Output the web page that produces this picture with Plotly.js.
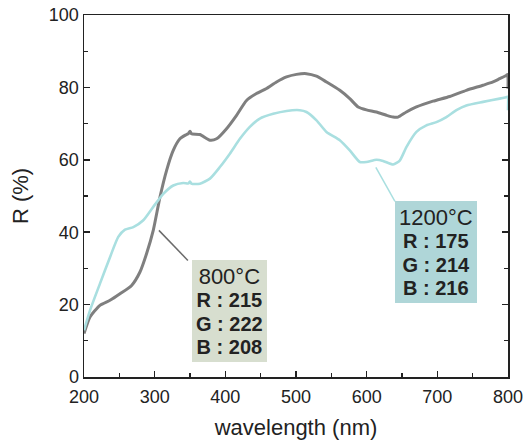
<!DOCTYPE html>
<html>
<head>
<meta charset="utf-8">
<script src="https://cdn.plot.ly/plotly-3.0.1.min.js"></script>
<style>html,body{margin:0;padding:0;background:#fff;}#chart{width:525px;height:444px;}</style>
</head>
<body>
<div id="chart"></div>
<script>
// 800°C sample (grey)
const wl800 = [200, 208.5, 222.6, 236.8, 250.9, 267.4, 279.2, 288.6, 298, 307.5, 316.9, 326.3, 335.7, 345.2, 348, 350, 352, 364, 378.2, 387.6, 401.7, 415.9, 430, 444.1, 458.3, 472.4, 486.6, 500.7, 514.8, 529, 543.1, 562, 576.1, 587.9, 599.7, 613.8, 628, 637.4, 644.4, 656.2, 670.4, 693.9, 717.5, 741.1, 764.7, 778.8, 788.2, 797.6, 799.5, 800];
const r800 = [12.0, 16.6, 19.8, 21.2, 23.0, 25.3, 29.0, 34.1, 40.5, 49.7, 57.1, 62.6, 65.8, 67.0, 67.3, 67.9, 67.2, 67.0, 65.4, 65.8, 68.6, 72.3, 76.4, 78.3, 79.7, 81.5, 82.9, 83.6, 83.8, 83.1, 81.5, 79.2, 76.9, 74.6, 73.8, 73.2, 72.3, 71.8, 71.8, 73.2, 74.6, 76.2, 77.5, 79.2, 80.6, 81.5, 82.4, 83.3, 83.6, 79.6];
// 1200°C sample (cyan)
const wl1200 = [200, 208.5, 222.6, 236.8, 248.5, 258, 269.8, 283.9, 298, 312.2, 326.3, 340.4, 348, 350, 352, 364, 378.2, 392.3, 406.4, 420.6, 434.7, 448.8, 467.7, 486.6, 505.4, 514.8, 529, 543.1, 562, 576.1, 590.3, 599.7, 613.8, 623.2, 637.4, 646.8, 656.2, 670.4, 684.5, 698.7, 712.8, 727, 741.1, 764.7, 788.2, 797.6, 799.5, 800];
const r1200 = [12.9, 18.4, 25.8, 33.1, 38.7, 40.7, 41.4, 43.3, 47.0, 50.6, 52.9, 53.6, 53.5, 54.0, 53.4, 53.4, 54.8, 58.0, 61.7, 65.8, 69.1, 71.4, 72.7, 73.5, 73.7, 73.2, 70.9, 67.7, 65.4, 62.6, 59.4, 59.4, 60.0, 59.7, 58.7, 59.8, 63.5, 67.7, 69.5, 70.4, 71.8, 73.7, 75.0, 76.0, 76.9, 77.3, 77.4, 73.7];

const labels = ["800°C", "1200°C"];
const rgb800 = ["R : 215", "G : 222", "B : 208"];
const rgb1200 = ["R : 175", "G : 214", "B : 216"];

const FONT = "Liberation Sans, Arial, Helvetica, sans-serif";

const traces = [
  {x: wl800, y: r800, mode: "lines", line: {color: "#7f7f7f", width: 3, shape: "spline", smoothing: 0.6}, hoverinfo: "skip"},
  {x: wl1200, y: r1200, mode: "lines", line: {color: "#a9dfe0", width: 2.6, shape: "spline", smoothing: 0.6}, hoverinfo: "skip"}
];

function boxText(title, rows) {
  return '<span style="font-size:22px">' + title + '</span><br>' +
    rows.map(r => '<span style="font-size:20px;font-weight:bold">' + r + '</span>').join('<br>');
}

const layout = {
  width: 525, height: 444,
  margin: {l: 84, r: 17, t: 15, b: 67},
  paper_bgcolor: "#ffffff", plot_bgcolor: "#ffffff",
  showlegend: false,
  font: {family: FONT, color: "#222222", size: 18},
  xaxis: {
    range: [200, 800], dtick: 100, tick0: 200,
    ticks: "inside", ticklen: 6, tickwidth: 1.5, tickcolor: "#222",
    minor: {dtick: 50, ticks: "inside", ticklen: 4, tickwidth: 1.2, tickcolor: "#222"},
    showline: true, linecolor: "#222", linewidth: 1.5, mirror: true,
    showgrid: false, zeroline: false, ticklabelstandoff: 3,
    tickfont: {size: 18, family: FONT, color: "#222"},
    title: {text: "wavelength (nm)", font: {size: 22, family: FONT, color: "#222"}, standoff: 13}
  },
  yaxis: {
    range: [0, 100], dtick: 20, tick0: 0,
    ticks: "inside", ticklen: 6, tickwidth: 1.5, tickcolor: "#222",
    minor: {dtick: 10, ticks: "inside", ticklen: 4, tickwidth: 1.2, tickcolor: "#222"},
    showline: true, linecolor: "#222", linewidth: 1.5, mirror: "ticks",
    showgrid: false, zeroline: false,
    tickfont: {size: 18, family: FONT, color: "#222"},
    title: {text: "R (%)", font: {size: 22, family: FONT, color: "#222"}, standoff: 14}
  },
  shapes: [
    {type: "line", xref: "x", yref: "y", x0: 306, y0: 40.5, x1: 347, y1: 32.2, line: {color: "#6b6b6b", width: 1.5}},
    {type: "line", xref: "x", yref: "y", x0: 613, y0: 57.9, x1: 640, y1: 48.5, line: {color: "#a9dfe0", width: 1.5}}
  ],
  annotations: [
    {x: 406, y: 18.3, xref: "x", yref: "y", showarrow: false, text: boxText(labels[0], rgb800),
     bgcolor: "#d7decf", borderpad: 4, borderwidth: 0, xanchor: "center", yanchor: "middle", align: "center",
     font: {size: 18, family: FONT, color: "#222"}},
    {x: 697.5, y: 34.6, xref: "x", yref: "y", showarrow: false, text: boxText(labels[1], rgb1200),
     bgcolor: "#afd6d8", borderpad: 4, borderwidth: 0, xanchor: "center", yanchor: "middle", align: "center",
     font: {size: 18, family: FONT, color: "#222"}}
  ]
};

Plotly.newPlot("chart", traces, layout, {staticPlot: true, displayModeBar: false});
</script>
</body>
</html>
